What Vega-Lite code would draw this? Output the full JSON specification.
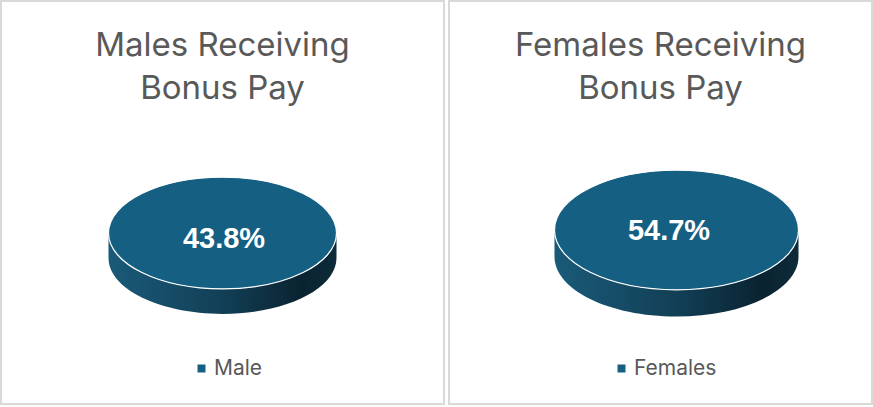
{
  "$schema": "https://vega.github.io/schema/vega-lite/v6.json",
  "padding": 0,
  "spacing": 3,
  "config": {
    "view": {"stroke": null},
    "title": {
      "font": "Inter",
      "fontSize": 33,
      "fontWeight": "normal",
      "color": "#595959",
      "lineHeight": 43,
      "baseline": "alphabetic",
      "anchor": "middle",
      "offset": -106
    },
    "legend": {
      "labelFont": "Inter",
      "labelFontSize": 21,
      "labelColor": "#595959",
      "labelOffset": 2,
      "padding": 0,
      "symbolSize": 64,
      "symbolStrokeWidth": 0
    }
  },
  "resolve": {"scale": {"color": "independent"}, "legend": {"color": "independent"}},
  "hconcat": [
    {
      "width": 443,
      "height": 403,
      "title": {"text": ["Males Receiving", "Bonus Pay"]},
      "data": {"values": [{"group": "Male", "share": 0.438}]},
      "layer": [
        {
          "mark": {"type": "rect", "fill": "#ffffff", "stroke": "#d9d9d9", "strokeWidth": 2},
          "encoding": {}
        },
        {
          "mark": {
            "type": "point",
            "shape": "M -1 0 A 1 0.49 0 0 0 1 0 L 1 0.22 A 1 0.49 0 0 1 -1 0.22 Z",
            "filled": true,
            "opacity": 1,
            "size": 51984,
            "yOffset": 30.5,
            "color": {
              "gradient": "linear",
              "x1": 0, "y1": 0, "x2": 1, "y2": 0,
              "stops": [
                {"offset": 0, "color": "#1a5a78"},
                {"offset": 0.5, "color": "#123f56"},
                {"offset": 0.85, "color": "#0a2331"},
                {"offset": 1, "color": "#0d2b3a"}
              ]
            }
          },
          "encoding": {}
        },
        {
          "mark": {
            "type": "point",
            "shape": "M -1 0 A 1 0.49 0 1 1 1 0 A 1 0.49 0 1 1 -1 0 Z",
            "filled": true,
            "opacity": 1,
            "size": 51984,
            "yOffset": 30.5,
            "stroke": "#ffffff",
            "strokeWidth": 1.2
          },
          "encoding": {
            "color": {
              "field": "group",
              "type": "nominal",
              "scale": {"range": ["#156082"]},
              "legend": {"title": null, "orient": "none", "legendX": 190, "legendY": 357, "symbolType": "square"}
            }
          }
        },
        {
          "mark": {
            "type": "text",
            "font": "Liberation Sans",
            "fontWeight": "bold",
            "fontSize": 29,
            "color": "#ffffff",
            "baseline": "middle",
            "xOffset": 1.5,
            "yOffset": 36
          },
          "encoding": {"text": {"field": "share", "type": "quantitative", "format": ".1%"}}
        }
      ]
    },
    {
      "width": 423,
      "height": 403,
      "title": {"text": ["Females Receiving", "Bonus Pay"]},
      "data": {"values": [{"group": "Females", "share": 0.547}]},
      "layer": [
        {
          "mark": {"type": "rect", "fill": "#ffffff", "stroke": "#d9d9d9", "strokeWidth": 2},
          "encoding": {}
        },
        {
          "mark": {
            "type": "point",
            "shape": "M -1 0 A 1 0.49 0 0 0 1 0 L 1 0.22 A 1 0.49 0 0 1 -1 0.22 Z",
            "filled": true,
            "opacity": 1,
            "size": 59536,
            "xOffset": 16,
            "yOffset": 27.5,
            "color": {
              "gradient": "linear",
              "x1": 0, "y1": 0, "x2": 1, "y2": 0,
              "stops": [
                {"offset": 0, "color": "#1a5a78"},
                {"offset": 0.5, "color": "#123f56"},
                {"offset": 0.85, "color": "#0a2331"},
                {"offset": 1, "color": "#0d2b3a"}
              ]
            }
          },
          "encoding": {}
        },
        {
          "mark": {
            "type": "point",
            "shape": "M -1 0 A 1 0.49 0 1 1 1 0 A 1 0.49 0 1 1 -1 0 Z",
            "filled": true,
            "opacity": 1,
            "size": 59536,
            "xOffset": 16,
            "yOffset": 27.5,
            "stroke": "#ffffff",
            "strokeWidth": 1.2
          },
          "encoding": {
            "color": {
              "field": "group",
              "type": "nominal",
              "scale": {"range": ["#156082"]},
              "legend": {"title": null, "orient": "none", "legendX": 162, "legendY": 357, "symbolType": "square"}
            }
          }
        },
        {
          "mark": {
            "type": "text",
            "font": "Liberation Sans",
            "fontWeight": "bold",
            "fontSize": 29,
            "color": "#ffffff",
            "baseline": "middle",
            "xOffset": 8.5,
            "yOffset": 28
          },
          "encoding": {"text": {"field": "share", "type": "quantitative", "format": ".1%"}}
        }
      ]
    }
  ]
}
